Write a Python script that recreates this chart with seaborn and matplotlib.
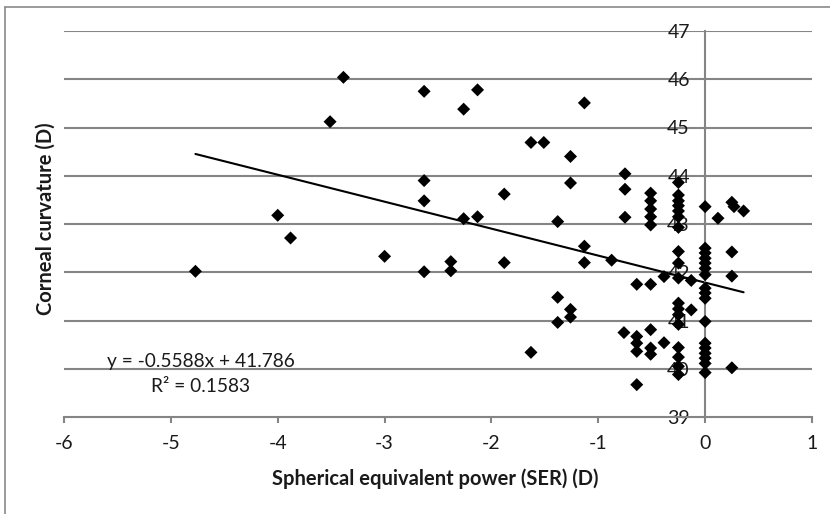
import matplotlib
matplotlib.use("Agg")
import matplotlib.pyplot as plt
import seaborn as sns
import pandas as pd
import numpy as np
from matplotlib.lines import Line2D

# ---- data ----
ser = [-4.77, -4.00, -3.88, -3.51, -3.385, -3.00,
       -2.63, -2.63, -2.63, -2.63, -2.38, -2.38, -2.26, -2.26, -2.13, -2.13,
       -1.88, -1.88, -1.63, -1.63, -1.51, -1.38, -1.38, -1.38,
       -1.26, -1.26, -1.26, -1.26, -1.13, -1.13, -1.13, -0.875,
       -0.75, -0.75, -0.75, -0.76,
       -0.64, -0.64, -0.64, -0.64, -0.64,
       -0.51, -0.51, -0.51, -0.51, -0.51, -0.51, -0.51, -0.51, -0.51,
       -0.385, -0.385,
       -0.25, -0.25, -0.25, -0.25, -0.25, -0.25, -0.25,
       -0.25, -0.25, -0.25,
       -0.25, -0.25, -0.25, -0.25,
       -0.25, -0.25, -0.25, -0.25,
       -0.13, -0.13,
       0.0, 0.0, 0.0, 0.0, 0.0, 0.0, 0.0, 0.0, 0.0, 0.0, 0.0,
       0.0, 0.0, 0.0, 0.0, 0.0, 0.0,
       0.12, 0.25, 0.27, 0.25, 0.25, 0.25, 0.36]
curvature = [42.02, 43.18, 42.71, 45.12, 46.04, 42.33,
             45.75, 43.90, 43.48, 42.01, 42.22, 42.03, 45.38, 43.11, 45.78, 43.15,
             43.62, 42.20, 44.69, 40.34, 44.69, 43.05, 41.48, 40.96,
             44.40, 43.85, 41.23, 41.07, 45.51, 42.54, 42.20, 42.25,
             44.04, 43.72, 43.14, 40.75,
             41.75, 40.67, 40.53, 40.36, 39.67,
             43.64, 43.48, 43.31, 43.15, 42.98, 41.75, 40.81, 40.43, 40.30,
             41.91, 40.54,
             43.86, 43.60, 43.48, 43.38, 43.27, 43.15, 42.93,
             42.43, 42.19, 41.88,
             41.36, 41.24, 41.12, 40.92,
             40.44, 40.24, 40.05, 39.88,
             41.83, 41.22,
             43.36, 42.50, 42.40, 42.29, 42.19, 42.08, 41.95, 41.67, 41.57, 41.46, 40.98,
             40.53, 40.43, 40.32, 40.22, 40.11, 39.92,
             43.12, 43.45, 43.36, 42.42, 41.92, 40.02, 43.27]
slope = -0.5588
intercept = 41.786
r_squared = 0.1583
x_ticks = [-6, -5, -4, -3, -2, -1, 0, 1]
y_ticks = [39, 40, 41, 42, 43, 44, 45, 46, 47]

df = pd.DataFrame({"ser": ser, "curv": curvature})

sns.set_theme(style="white")
plt.rcParams["font.family"] = ["Lato", "DejaVu Sans"]

W, H = 830, 514
fig = plt.figure(figsize=(W / 100, H / 100), dpi=100)
ax = fig.add_axes([64 / W, 1 - 417 / H, (812 - 64) / W, (417 - 31) / H])

grey = "#858585"
txt = "#1a1a1a"
for yv in y_ticks[1:]:
    ax.axhline(yv, color=grey, lw=1.5, zorder=0)

sns.scatterplot(data=df, x="ser", y="curv", marker="D", s=44, color="black",
                edgecolor="none", ax=ax, zorder=3)

xs = np.array([min(ser), max(ser)])
ax.plot(xs, slope * xs + intercept, color="black", lw=1.5, zorder=2)

ax.set_xlim(x_ticks[0], x_ticks[-1])
ax.set_ylim(y_ticks[0], y_ticks[-1])
ax.set_xticks(x_ticks)
ax.set_yticks(y_ticks)
ax.set_xticklabels([str(v) for v in x_ticks])
ax.set_yticklabels([str(v) for v in y_ticks])
ax.set_xlabel("")
ax.set_ylabel("")

ax.spines["top"].set_visible(False)
ax.spines["right"].set_visible(False)
ax.spines["left"].set_position(("data", 0))
for s in ("left", "bottom"):
    ax.spines[s].set_color(grey)
    ax.spines[s].set_linewidth(1.5)
ax.tick_params(axis="x", direction="out", length=4, width=1.5, color=grey,
               labelsize=14, pad=9, labelcolor=txt, bottom=True)
ax.tick_params(axis="y", length=0, pad=11, labelsize=14, labelcolor=txt)
ax.set_facecolor("white")

ax.text(0.183, 0.145, f"y = {slope}x + {intercept}", transform=ax.transAxes,
        ha="center", va="center", fontsize=13.8, color=txt)
ax.text(0.183, 0.078, f"R² = {r_squared}", transform=ax.transAxes,
        ha="center", va="center", fontsize=13.8, color=txt)

fig.text(435 / W, 1 - 479 / H, "Spherical equivalent power (SER) (D)",
         ha="center", va="center", fontsize=14.5, fontweight="bold", color=txt)
fig.text(46 / W, 1 - 219 / H, "Corneal curvature (D)", rotation=90,
         ha="center", va="center", fontsize=14.5, fontweight="bold", color=txt)

# chart frame (left and top edges visible)
fig.add_artist(Line2D([5 / W, 5 / W], [0, 1 - 7 / H], transform=fig.transFigure,
                      color="#8a8a8a", lw=1.2))
fig.add_artist(Line2D([5 / W, 1], [1 - 7 / H, 1 - 7 / H], transform=fig.transFigure,
                      color="#8a8a8a", lw=1.2))

fig.savefig("out.png", dpi=100, facecolor="white")
